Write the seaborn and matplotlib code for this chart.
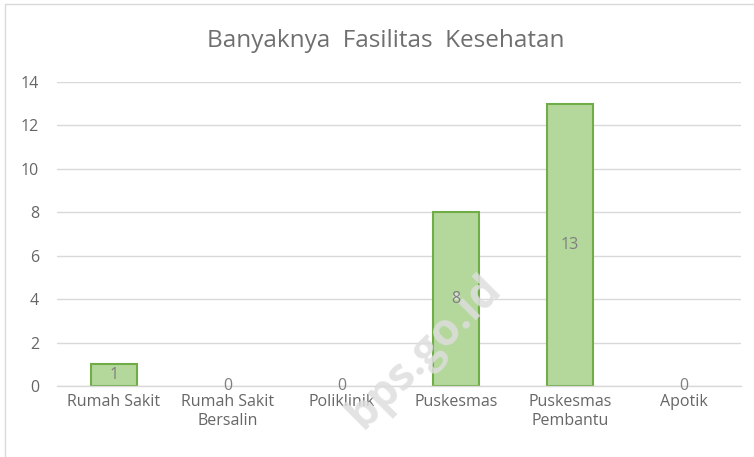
import matplotlib
matplotlib.use("Agg")
import matplotlib.pyplot as plt
import seaborn as sns
import pandas as pd
from matplotlib.patches import Rectangle

categories = ["Rumah Sakit", "Rumah Sakit\nBersalin", "Poliklinik", "Puskesmas",
              "Puskesmas\nPembantu", "Apotik"]
values = [1, 0, 0, 8, 13, 0]
yticks = [0, 2, 4, 6, 8, 10, 12, 14]
title = "Banyaknya  Fasilitas  Kesehatan"

sns.set_style("white")
plt.rcParams['font.family'] = ['Open Sans', 'DejaVu Sans']

df = pd.DataFrame({"cat": categories, "val": values})

fig = plt.figure(figsize=(7.54, 4.57), dpi=100)
ax = fig.add_axes([57/754, 1 - 386/457, (741-57)/754, (386-82)/457])

sns.barplot(data=df, x="cat", y="val", ax=ax, color="#b4d79c",
            edgecolor="#70ad47", linewidth=1.5, width=0.4, saturation=1)
for p in ax.patches:
    if p.get_height() == 0:
        p.set_linewidth(0)
        p.set_visible(False)

ax.set_ylim(0, 14)
ax.set_xlim(-0.5, len(categories) - 0.5)
ax.set_yticks(yticks)
ax.set_yticklabels([str(t) for t in yticks])
ax.yaxis.grid(True, color="#d9d9d9", linewidth=1)
ax.set_axisbelow(True)
for s in ["top", "right", "left"]:
    ax.spines[s].set_visible(False)
ax.spines["bottom"].set_color("#d9d9d9")
ax.spines["bottom"].set_linewidth(1)
ax.set_xlabel("")
ax.set_ylabel("")
ax.tick_params(axis="both", length=0, colors="#666666", labelsize=11.5)
ax.tick_params(axis="y", pad=13)
ax.tick_params(axis="x", pad=6)

for i, v in enumerate(values):
    ax.text(i, v / 2, str(v), ha="center", va="center", color="#7f7f7f",
            fontsize=11.5, zorder=6)

fig.text(386/754, 1 - 41/457, title, ha="center", va="center", color="#6f6f6f",
         fontsize=17.5)

ax.text(425/754, 1 - 352/457, "bps.go.id", rotation=45, ha="center", va="center",
        color="#dedede", alpha=0.85, fontsize=32, fontweight="bold",
        transform=fig.transFigure, clip_on=False, zorder=4)

fig.patches.append(Rectangle((5/754, -0.1), 1.1, 1 - 4/457 + 0.1,
                             transform=fig.transFigure, fill=False,
                             edgecolor="#d9d9d9", linewidth=1))

fig.savefig("out.png", dpi=100)
